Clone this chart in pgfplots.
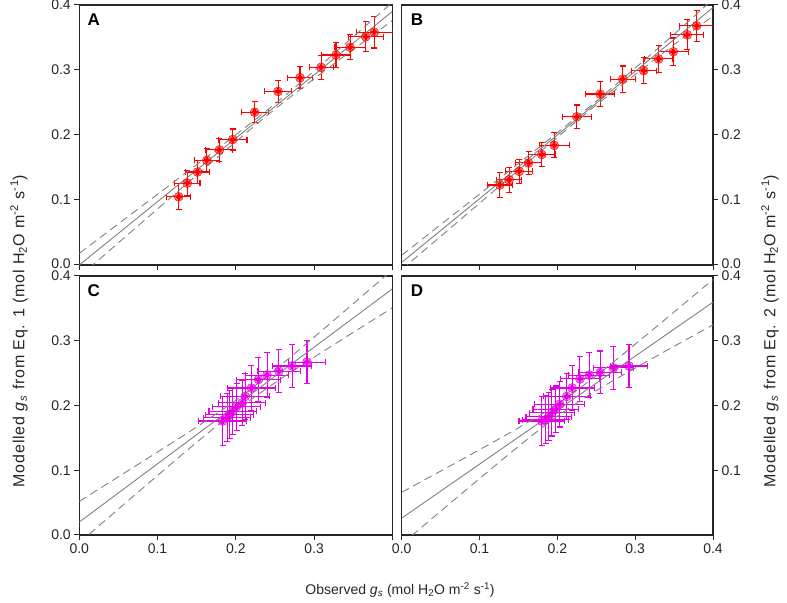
\documentclass[border=0pt]{standalone}
\usepackage{fontspec}
\setmainfont{Liberation Sans}
\usepackage{pgfplots}
\pgfplotsset{compat=1.18}
\usetikzlibrary{arrows.meta}
\definecolor{linegray}{RGB}{128,128,128}
\definecolor{pred}{RGB}{255,0,0}
\definecolor{pmag}{RGB}{228,0,228}

\tikzset{letter/.style={anchor=base west, inner sep=0pt, text=black,
    font=\fontsize{17bp}{19bp}\selectfont\bfseries}}

\pgfplotsset{
  panel/.style={
    scale only axis, width=313bp, height=259bp, anchor=south west,
    xmin=0, xmax=0.4, ymin=0, ymax=0.4,
    clip=true,
    axis line style={line width=1.1bp, black!85},
    tick align=outside,
    major tick length=5bp,
    every tick/.style={black!85, line width=1bp},
    tick label style={font=\fontsize{14bp}{16bp}\selectfont, text=black!85},
    xtick={0,0.1,0.2,0.3,0.4},
    ytick={0,0.1,0.2,0.3,0.4},
    xtick pos=left,
    /pgf/number format/assume math mode=true,
  },
  fitline/.style={linegray, line width=0.9bp},
  band/.style={linegray, line width=0.9bp, dash pattern=on 8bp off 5bp, smooth},
  errs/.style={
    forget plot, color=#1, only marks, mark=none,
    error bars/.cd, x dir=both, x explicit, y dir=both, y explicit,
    error mark=none,
    error bar style={color=#1, line width=1.1bp, solid, {Bar[width=6bp]}-{Bar[width=6bp]}},
  },
  dots/.style={
    only marks, mark=*, mark size=4.5bp, color=#1,
    mark options={solid, fill=#1, draw=none, fill opacity=0.55},
  },
}

\pgfplotstableread{
x y ex ey
0.127 0.105 0.016 0.021
0.138 0.126 0.017 0.020
0.151 0.143 0.016 0.019
0.163 0.161 0.017 0.019
0.179 0.177 0.018 0.018
0.196 0.193 0.019 0.017
0.224 0.235 0.018 0.017
0.254 0.267 0.018 0.018
0.282 0.288 0.017 0.018
0.309 0.304 0.016 0.019
0.328 0.323 0.019 0.020
0.346 0.335 0.020 0.020
0.366 0.351 0.023 0.024
0.377 0.358 0.024 0.025
}\dataA

\pgfplotstableread{
x y ex ey
0.126 0.123 0.017 0.020
0.138 0.131 0.017 0.020
0.151 0.144 0.018 0.019
0.163 0.157 0.017 0.019
0.180 0.170 0.018 0.019
0.196 0.184 0.020 0.020
0.225 0.228 0.019 0.019
0.255 0.263 0.019 0.020
0.284 0.286 0.017 0.021
0.311 0.299 0.017 0.021
0.330 0.317 0.019 0.022
0.349 0.328 0.020 0.022
0.367 0.354 0.022 0.024
0.379 0.368 0.023 0.025
}\dataB

\pgfplotstableread{
x y ex ey
0.183 0.176 0.031 0.039
0.189 0.181 0.031 0.038
0.192 0.186 0.031 0.038
0.196 0.191 0.031 0.037
0.201 0.198 0.031 0.037
0.208 0.204 0.031 0.036
0.212 0.214 0.032 0.036
0.220 0.227 0.031 0.035
0.229 0.240 0.029 0.035
0.240 0.247 0.028 0.035
0.255 0.253 0.028 0.034
0.272 0.261 0.026 0.034
0.291 0.267 0.024 0.034
}\dataC

\pgfplotstableread{
x y ex ey
0.180 0.176 0.030 0.039
0.185 0.178 0.030 0.038
0.189 0.183 0.030 0.038
0.193 0.189 0.030 0.037
0.198 0.194 0.030 0.037
0.203 0.202 0.033 0.036
0.212 0.214 0.031 0.036
0.219 0.227 0.029 0.035
0.229 0.241 0.026 0.035
0.241 0.247 0.027 0.035
0.255 0.251 0.028 0.034
0.272 0.258 0.026 0.034
0.292 0.261 0.024 0.034
}\dataD

\begin{document}
\begin{tikzpicture}[x=1bp,y=1bp]
\useasboundingbox (0,0) rectangle (787,603);

% ---------- A ----------
\begin{scope}[color=pred]
\begin{axis}[panel, at={(79.3bp,338bp)}, height=260bp,
  ytick pos=left, xticklabels={},
  yticklabels={\raisebox{3.5bp}{0.0},0.1,0.2,0.3,0.4}]
\addplot[errs=pred] table[x=x,y=y,x error=ex,y error=ey] {\dataA};
\addplot[band] coordinates {(0,0.018) (0.05,0.0634) (0.1,0.1088) (0.15,0.1544) (0.2,0.2003) (0.25,0.2478) (0.3,0.2985) (0.35,0.3511) (0.4,0.404)};
\addplot[band] coordinates {(0,-0.018) (0.05,0.0342) (0.1,0.0862) (0.15,0.1382) (0.2,0.1897) (0.25,0.2398) (0.3,0.2865) (0.35,0.3315) (0.4,0.376)};
\addplot[fitline] coordinates {(0,0) (0.4,0.39)};
\addplot[dots=pred] table[x=x,y=y] {\dataA};
\node[letter] at ([xshift=8bp,yshift=-21bp]rel axis cs:0,1) {A};
\end{axis}
\end{scope}

% ---------- B ----------
\begin{scope}[color=pred]
\begin{axis}[panel, at={(401.7bp,338bp)}, width=311.3bp, height=260bp,
  ytick pos=right, yticklabel pos=right, xticklabels={},
  yticklabels={\raisebox{3.5bp}{0.0},0.1,0.2,0.3,0.4}]
\addplot[errs=pred] table[x=x,y=y,x error=ex,y error=ey] {\dataB};
\addplot[band] coordinates {(0,0.015) (0.05,0.062) (0.1,0.109) (0.15,0.156) (0.2,0.2035) (0.25,0.252) (0.3,0.303) (0.35,0.355) (0.4,0.409)};
\addplot[band] coordinates {(0,-0.007) (0.05,0.044) (0.1,0.095) (0.15,0.146) (0.2,0.1965) (0.25,0.246) (0.3,0.293) (0.35,0.339) (0.4,0.383)};
\addplot[fitline] coordinates {(0,0.004) (0.4,0.396)};
\addplot[dots=pred] table[x=x,y=y] {\dataB};
\node[letter] at ([xshift=9bp,yshift=-21bp]rel axis cs:0,1) {B};
\end{axis}
\end{scope}

% ---------- C ----------
\begin{scope}[color=pmag]
\begin{axis}[panel, at={(79.3bp,68bp)},
  ytick pos=left,
  xticklabels={0.0,0.1,0.2,0.3,{}},
  yticklabels={0.0,0.1,0.2,0.3,\raisebox{-3.5bp}{0.4}}]
\addplot[errs=pmag] table[x=x,y=y,x error=ex,y error=ey] {\dataC};
\addplot[band] coordinates {(0,0.052) (0.05,0.0899) (0.1,0.1281) (0.15,0.1669) (0.2,0.2081) (0.25,0.2549) (0.3,0.3055) (0.35,0.3572) (0.4,0.4092)};
\addplot[band] coordinates {(0,-0.012) (0.05,0.0401) (0.1,0.0919) (0.15,0.1431) (0.2,0.1919) (0.25,0.2351) (0.3,0.2745) (0.35,0.3128) (0.4,0.3508)};
\addplot[fitline] coordinates {(0,0.02) (0.4,0.38)};
\addplot[dots=pmag] table[x=x,y=y] {\dataC};
\node[letter] at ([xshift=8bp,yshift=-21bp]rel axis cs:0,1) {C};
\end{axis}
\end{scope}

% ---------- D ----------
\begin{scope}[color=pmag]
\begin{axis}[panel, at={(401.7bp,68bp)}, width=311.3bp,
  ytick pos=right, yticklabel pos=right,
  ytick={0.1,0.2,0.3,0.4},
  xticklabels={0.0,0.1,0.2,0.3,0.4},
  yticklabels={0.1,0.2,0.3,\raisebox{-3.5bp}{0.4}}]
\addplot[errs=pmag] table[x=x,y=y,x error=ex,y error=ey] {\dataD};
\addplot[band] coordinates {(0,0.066) (0.05,0.0987) (0.1,0.1317) (0.15,0.1654) (0.2,0.2020) (0.25,0.2460) (0.3,0.2946) (0.35,0.3444) (0.4,0.3946)};
\addplot[band] coordinates {(0,-0.014) (0.05,0.0367) (0.1,0.0871) (0.15,0.1368) (0.2,0.1836) (0.25,0.2230) (0.3,0.2578) (0.35,0.2914) (0.4,0.3246)};
\addplot[fitline] coordinates {(0,0.026) (0.4,0.3596)};
\addplot[dots=pmag] table[x=x,y=y] {\dataD};
\node[letter] at ([xshift=9bp,yshift=-21bp]rel axis cs:0,1) {D};
\end{axis}
\end{scope}

% ---------- axis titles ----------
\node[rotate=90, font=\fontsize{16bp}{18bp}\selectfont\addfontfeatures{LetterSpace=5}, text=black!85] at (19,272)
  {Modelled \textit{g}\textsubscript{\textit{s}} from Eq. 1 (mol H\textsubscript{2}O m\textsuperscript{-2} s\textsuperscript{-1})};
\node[rotate=90, font=\fontsize{16bp}{18bp}\selectfont\addfontfeatures{LetterSpace=5}, text=black!85] at (770,272)
  {Modelled \textit{g}\textsubscript{\textit{s}} from Eq. 2 (mol H\textsubscript{2}O m\textsuperscript{-2} s\textsuperscript{-1})};
\node[font=\fontsize{14bp}{16bp}\selectfont, text=black!85] at (400,13)
  {Observed \textit{g}\textsubscript{\textit{s}} (mol H\textsubscript{2}O m\textsuperscript{-2} s\textsuperscript{-1})};
\end{tikzpicture}
\end{document}
